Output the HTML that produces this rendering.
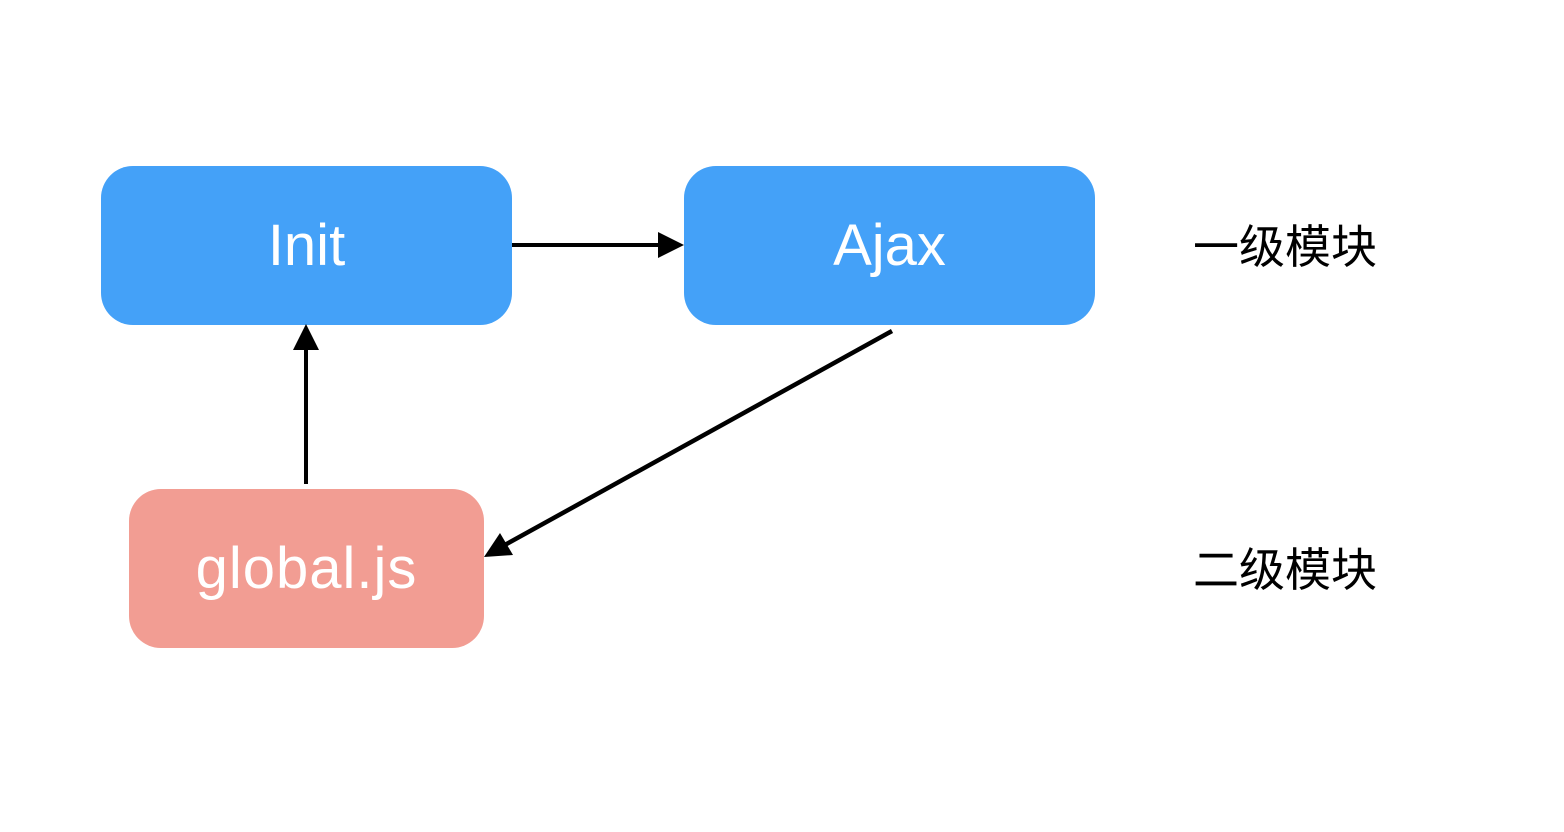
<!DOCTYPE html>
<html><head><meta charset="utf-8"><style>
html,body{margin:0;padding:0;background:#fff;}
body{width:1564px;height:832px;position:relative;overflow:hidden;font-family:"Liberation Sans","Noto Sans CJK SC",sans-serif;}
.b{position:absolute;border-radius:32px;color:#fff;display:flex;align-items:center;justify-content:center;font-size:58px;}
.l{position:absolute;font-size:46px;color:#000;font-family:"Noto Sans CJK SC",sans-serif;}
</style></head><body>
<div class="b" style="left:101px;top:166px;width:411px;height:159px;background:#44A1F8;">Init</div>
<div class="b" style="left:684px;top:166px;width:411px;height:159px;background:#44A1F8;">Ajax</div>
<div class="b" style="left:129px;top:489px;width:355px;height:159px;background:#F29D93;letter-spacing:1px;">global.js</div>
<div class="l" style="left:1193px;top:211px;">一级模块</div>
<div class="l" style="left:1193px;top:534px;">二级模块</div>
<svg width="1564" height="832" style="position:absolute;left:0;top:0">
<line x1="512" y1="245" x2="660" y2="245" stroke="#000" stroke-width="4"/>
<polygon points="684,245 658,232 658,258" fill="#000"/>
<line x1="306" y1="484" x2="306" y2="348" stroke="#000" stroke-width="4"/>
<polygon points="306,324 293,350 319,350" fill="#000"/>
<line x1="892" y1="331" x2="503" y2="546" stroke="#000" stroke-width="4.5"/>
<polygon points="484,557 513,555 500,533" fill="#000"/>
</svg>
</body></html>
